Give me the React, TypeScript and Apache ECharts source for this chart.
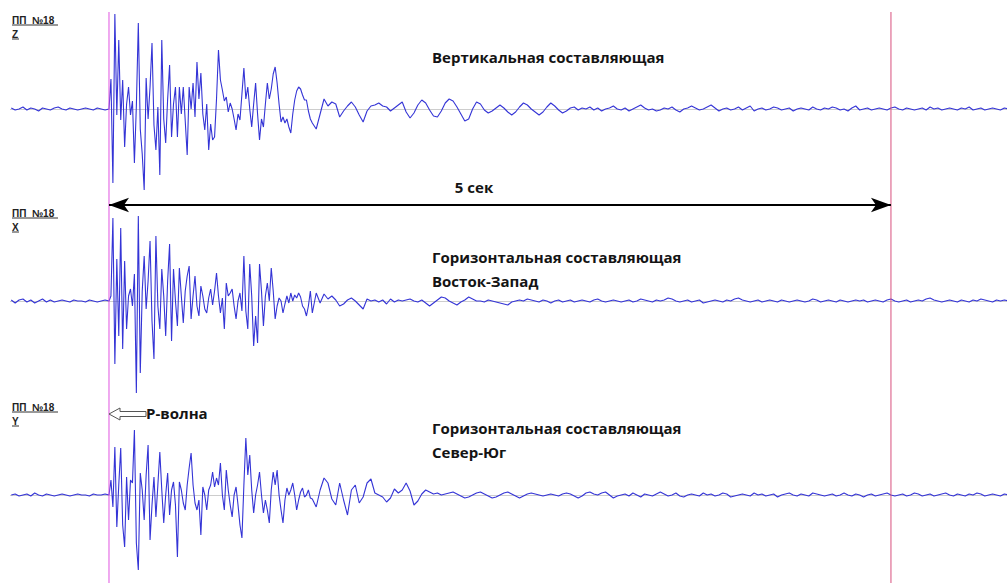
import React, { useEffect, useRef } from "react";
import * as echarts from "echarts";

// ---- time axis (seconds) ----
const X_MIN = -0.633;
const X_MAX = 5.742;
const PRE_START = -0.625;
const PRE_STEP = 0.025;
const DENSE_STEP = 0.0125;
const POST_START = 1.3;
const POST_STEP = 0.025;
const MARKER_TIMES = [0, 5];
const MARKER_COLORS = ["#e055e0", "#d8507e"];
const DURATION_LABEL = "5 сек";

// ---- Z: vertical component ----
const zPre = [1, -1, 0, 2, -1, 1, 0, -2, 1, 0, -1, 1, 2, 0, -1, 1, 0, -1, 0, 1, 0, -1, 1, 0, -1];
const zDense = [
  0, 30, -74, 95, -6, 69, -11, 29, -38, 5, 22, -6, 8, -54, 3, 86, -20, -45, -81, 31,
  -10, 22, 66, -16, -41, 2, -66, 69, -10, -34, 10, 44, -28, 5, 22, -28, 22, -5, 22, -12,
  -46, 22, 0, 26, -8, 47, 10, 36, -5, -21, 5, -41, -15, -31, -28, 10, 59, 29, 19, 8,
  12, -3, 6, 0, -10, -21, -5, -11, 15, 41, 10, 22, 0, -18, 5, 26, -5, -31, -10, -18,
  5, 26, 10, 20, 35, 42, 26, 5, -13, -8, -14, -10, -18, -24, -5, 9, 18, 22, 20, 14,
  9, 9, -2, -10,
];
const zPost = [
  -14, -20, -5, 10, 3, 7, 5, -8, -2, 3, 7, 2, -6, -13, -2, 3, 4, 6, 3, 2,
  -2, 1, 4, 7, -3, -9, -4, 4, 9, 6, -1, -7, -8, -2, 6, 10, 8, 2, -5, -12,
  -10, 0, 7, 5, -1, -4, -2, 1, 4, 1, -3, -6, -3, 2, 6, 4, 0, -3, -6, -3,
  2, 6, 3, -1, -4, -2, 1, 2, -1, 1,
  0, 2, -1, 1, -2, 0, 1, 3, 0, -1, 1, -2,
  0, 2, 4, 1, -1, 0, -2, -1, 1, 0, 2, -1,
  -3, 0, 1, 3, 1, -1, 0, 2, 4, 1, -2, 0,
  1, -1, 0, 2, -1, 1, 3, -2, 0, 1, -1, 0,
  2, 1, -1, 0, 1, -2, 0, 1, 0, -1, 2, 0,
  -1, 1, 0, 2, 1, -1, 0, -2, 1, 3, -1, 0,
  1, -1, 0, 1, 0, -1, 1, 2, 0, -1, 1, 0,
  -1, 0, 1, -1, 2, 0, 1, -1, 0, 1, 0, -1,
  1, 0, 2, -1, 0, 1, -1, 0, 1, 0, -1, 1, 0, 1,
];

// ---- X: horizontal East-West ----
const xPre = [1, -2, 1, 2, -1, 1, -2, 0, 2, -1, 1, -1, 0, 1, 0, -1, 1, 0, 0, -1, 1, 0, -1, 0, 1];
const xDense = [
  0, 5, 83, -63, 42, -35, 73, -48, 40, -28, 5, 12, -5, 27, -92, 85, -72, 10, 45, -8,
  20, 60, -20, -58, 65, -5, -28, 32, 5, -35, 20, 57, -40, 32, 0, -25, 33, 5, -22, 10,
  25, 35, -18, 5, 25, -5, -15, 15, 5, -8, -12, 3, 12, -4, 10, 28, 5, -12, 3, -28,
  18, 5, 8, 12, -5, -18, 0, 8, -10, 45, -10, -28, 37, 5, -45, -15, -42, 37, 10, -25,
  5, 18, 0, 33, 10, -18, -5, 3, 0, -12, -3, 5, -2, 8, 0, 6, 3, 8, 4, -5,
  -8, -15, -5, 10,
];
const xPost = [
  -12, 8, -2, 7, 2, 5, 1, -5, -3, 1, 3, 0, -4, -8, 2, 0, 1, -1, 1, -3,
  2, -1, 1, 0, 1, 2, 0, -1, 1, -2, -5, -2, 1, 4, 3, 0, -2, -4, -1, 1,
  4, 2, 0, 0, -1, 1, 0, -1, -2, -3, -4, -1, 0, 1, 0, 2, 1,
  0, -1, 1, 0, -2, 0, 1, -1, 0, 1, -1,
  0, 1, 0, -1, 1, 2, 0, -1, 0, 1, 0,
  -1, 0, 1, -1, 0, 2, 1, 0, -1, 1, 0,
  1, 3, 2, 0, -1, 0, 1, -1, 0, 1, -2,
  -1, 0, 1, 0, -1, 1, 0, 2, 3, 1, 0,
  -1, 0, 1, -1, 0, 1, 0, -1, 1, 0, -1,
  0, 1, 0, -1, 0, 2, 1, -1, 0, 1, 0,
  -1, 1, 0, -1, 0, 1, 0, 1, -1, 0, 1,
  0, -1, 1, 2, 0, -1, 0, 1, -1, 0, 1,
  0, 2, 3, 1, 0, -1, 0, 1, 0, -1, 1,
  0, -1, 1, 0, 2, 1, 0, -1, 1, 0, 1, 0, -1,
];

// ---- Y: horizontal North-South ----
const yPre = [0, 1, -1, 0, 1, -1, 2, 0, -1, 1, 0, -1, 0, 1, 0, -1, 0, 1, 0, 0, -1, 1, 0, 0, 1];
const yDense = [
  0, 15, -12, 48, -32, 10, 47, -30, -52, 18, -25, 15, 12, 65, -48, -75, 22, 5, -25, 20,
  50, -45, -10, 18, -22, 10, 43, 5, -28, 0, 22, -20, 5, 13, -10, -62, 13, 5, -8, -15,
  10, 27, 42, 10, -8, -15, -5, -40, 8, 0, -15, 5, 10, 23, 8, 17, 10, 32, 0, -15,
  25, 5, -10, -22, 0, 8, -10, -30, -43, 10, 57, 20, 40, 5, -18, 0, 10, 23, 0, -18,
  -5, -15, -28, 5, 23, 10, 25, 0, -15, -28, -5, 7, 0, 5, 12, 0, -15, -5, 3, 7,
  -2, 0, 5, -3,
];
const yPost = [
  -4, -12, 5, 17, 12, -4, -10, 12, -5, -20, 5, 10, -8, -2, 12, 16, 2, 0, -2, -7,
  -3, 6, 2, 5, 12, 4, -10, -6, 1, 5, 3, 1, 2, 0, 1, 2, 3, 1, -1, -3,
  -2, 0, 2, 3, 1, -1, -3, -2, 0, 2, 3, 1, -1, -3, -1, 1, 2, 1, 0, -1,
  0, 1, 0, -1, 1, 2, 1, -1, -3, -1, 2, 3, 1, 0, 2, 3, 0, -3, -1,
  0, 1, -1, 2, 0, -2, 1, 0, -1, 1, 3,
  1, -1, 0, 2, -1, -2, 0, 1, 0, -1, 2,
  0, 1, -1, 0, 2, 1, -2, -1, 0, 1, 0,
  -1, 2, 0, 1, -1, 0, 1, -2, 0, 1, 2,
  0, -1, 1, 0, -1, 2, 1, 0, -1, 0, 1,
  -1, 0, 2, 0, -1, 1, 0, -2, 0, 1, -1,
  0, 1, 2, 0, -1, 0, 1, -1, 0, 2, 1,
  -1, 0, 1, -1, 0, 1, 2, 0, -1, 1, 0,
  -1, 1, 0, 2, 1, -1, 0, 1, 0, -1, 1, 0, 1,
];

const traces = [
  { pre: zPre, dense: zDense, post: zPost, center: 109, half: 100, label: "Z" },
  { pre: xPre, dense: xDense, post: xPost, center: 301, half: 100, label: "X" },
  { pre: yPre, dense: yDense, post: yPost, center: 495, half: 88, label: "Y" },
];

const STATION = "ПП  №18";
const titles = [
  { text: "Вертикальная составляющая", x: 432, y: 57 },
  { text: "Горизонтальная составляющая", x: 432, y: 257 },
  { text: "Восток-Запад", x: 432, y: 281 },
  { text: "Горизонтальная составляющая", x: 432, y: 428 },
  { text: "Север-Юг", x: 432, y: 452 },
];
const stationLabelY = [20, 213, 407];

function buildPoints(pre: number[], dense: number[], post: number[]) {
  const pts: number[][] = [];
  pre.forEach((v, k) => pts.push([PRE_START + PRE_STEP * k, v]));
  dense.forEach((v, i) => pts.push([DENSE_STEP * i, v]));
  post.forEach((v, j) => pts.push([POST_START + POST_STEP * j, v]));
  return pts;
}

const TITLE_FONT = 'bold 15px "Open Sans", "Noto Sans", sans-serif';
const LABEL_FONT = 'bold 10px "Liberation Sans", Arial, sans-serif';

export default function App() {
  const ref = useRef<HTMLDivElement>(null);
  useEffect(() => {
    document.body.style.margin = "0";
    if (!ref.current) return;
    const chart = echarts.init(ref.current, undefined, { renderer: "svg" });

    const grids: any[] = traces.map((t) => ({
      left: 10,
      right: 0,
      top: t.center - t.half,
      height: t.half * 2,
      containLabel: false,
    }));
    grids.push({ left: 10, right: 0, top: 0, bottom: 0 });

    const xAxes: any[] = grids.map((_, k) => ({
      type: "value",
      gridIndex: k,
      min: X_MIN,
      max: X_MAX,
      show: false,
    }));
    const yAxes: any[] = traces.map((t, k) => ({
      type: "value",
      gridIndex: k,
      min: -t.half,
      max: t.half,
      show: false,
    }));
    yAxes.push({ type: "value", gridIndex: 3, min: 0, max: 583, inverse: true, show: false });

    const series: any[] = traces.map((t, k) => ({
      type: "line",
      xAxisIndex: k,
      yAxisIndex: k,
      data: buildPoints(t.pre, t.dense, t.post),
      symbol: "none",
      showSymbol: false,
      clip: true,
      z: 3,
      lineStyle: { color: "#3434d6", width: 1.1 },
      markLine: {
        silent: true,
        symbol: "none",
        label: { show: false },
        lineStyle: { color: "#cdcdcd", width: 1, type: "solid" },
        data: [{ yAxis: 0 }],
        z: 1,
      },
    }));

    MARKER_TIMES.forEach((mt, k) => {
      series.push({
        type: "line",
        xAxisIndex: 3,
        yAxisIndex: 3,
        data: [
          [mt, 12],
          [mt, 583],
        ],
        symbol: "none",
        showSymbol: false,
        z: 4,
        color: MARKER_COLORS[k],
        lineStyle: { color: MARKER_COLORS[k], width: 1 },
      });
    });
    series.push({
      type: "line",
      xAxisIndex: 3,
      yAxisIndex: 3,
      data: [[0, -50]],
      symbol: "none",
      lineStyle: { opacity: 0 },
      z: 5,
      markLine: {
        silent: true,
        symbol: ["arrow", "arrow"],
        symbolSize: [11, 20],
        label: { show: false },
        lineStyle: { color: "#000", width: 2, type: "solid" },
        itemStyle: { color: "#000" },
        data: [[{ coord: [MARKER_TIMES[0], 205] }, { coord: [MARKER_TIMES[1], 205] }]],
      },
    });

    const graphic: any[] = [];
    titles.forEach((t) =>
      graphic.push({
        type: "text",
        x: t.x,
        y: t.y,
        z: 10,
        style: { text: t.text, font: TITLE_FONT, fill: "#141414", verticalAlign: "middle", align: "left" },
      })
    );
    graphic.push({
      type: "text",
      x: 474,
      y: 187,
      z: 10,
      style: { text: DURATION_LABEL, font: TITLE_FONT, fill: "#141414", verticalAlign: "middle", align: "center" },
    });
    traces.forEach((t, k) => {
      const y0 = stationLabelY[k];
      graphic.push({
        type: "text",
        x: 12,
        y: y0,
        z: 10,
        style: { text: STATION, font: LABEL_FONT, fill: "#222", verticalAlign: "middle" },
      });
      graphic.push({ type: "line", z: 10, shape: { x1: 12, y1: y0 + 5, x2: 58, y2: y0 + 5 }, style: { stroke: "#333", lineWidth: 1 } });
      graphic.push({
        type: "text",
        x: 12,
        y: y0 + 14,
        z: 10,
        style: { text: t.label, font: LABEL_FONT, fill: "#222", verticalAlign: "middle" },
      });
      graphic.push({ type: "line", z: 10, shape: { x1: 12, y1: y0 + 19, x2: 19, y2: y0 + 19 }, style: { stroke: "#333", lineWidth: 1 } });
    });
    // P-wave hollow arrow
    graphic.push({
      type: "polygon",
      z: 10,
      shape: {
        points: [
          [109, 414],
          [120, 408],
          [120, 411.5],
          [146, 411.5],
          [146, 416.5],
          [120, 416.5],
          [120, 420],
        ],
      },
      style: { fill: "#fff", stroke: "#555", lineWidth: 1 },
    });
    graphic.push({
      type: "text",
      x: 146,
      y: 413,
      z: 10,
      style: { text: "P-волна", font: TITLE_FONT, fill: "#141414", verticalAlign: "middle" },
    });

    chart.setOption({
      animation: false,
      backgroundColor: "#ffffff",
      grid: grids,
      xAxis: xAxes,
      yAxis: yAxes,
      series,
      graphic,
    });
    return () => chart.dispose();
  }, []);
  return <div ref={ref} style={{ width: 1007, height: 583 }} />;
}
